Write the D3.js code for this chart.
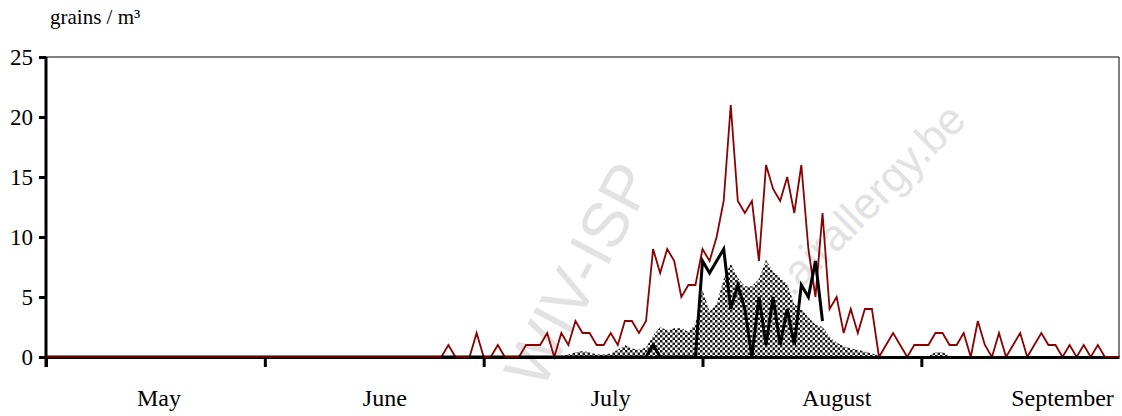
<!DOCTYPE html>
<html>
<head>
<meta charset="utf-8">
<script src="https://cdn.jsdelivr.net/npm/d3@7"></script>
<style>
  html, body { margin: 0; padding: 0; background: #fff; }
  svg { display: block; }
  text.serif { font-family: "Liberation Serif", "Times New Roman", serif; }
  text.wm { font-family: "Liberation Sans", Arial, sans-serif; }
</style>
</head>
<body>
<svg id="chart" width="1122" height="416"></svg>
<script>
// ---- data (day index 0 = 1 May ... 152 = 30 September) ----
const dayCount = 153;

// daily counts (red line)
const dailyCounts = [
  0,0,0,0,0,0,0,0,0,0, 0,0,0,0,0,0,0,0,0,0, 0,0,0,0,0,0,0,0,0,0,
  0,0,0,0,0,0,0,0,0,0, 0,0,0,0,0,0,0,0,0,0, 0,0,0,0,0,0,0,
  1,0,0,0,2,0,0,1,0,0,0,1,1,1,2,0,2,1,3,2,2,1,1,2,1,3,3,2,3,
  9,7,9,8,5,6,6,9,8,10,13,21,13,12,13,8,16,14,13,15,12,16,9,5,12,
  4,5,2,4,2,4,4,0,1,2,1,0,1,1,1,2,2,1,1,2,0,3,1,0,2,0,1,2,0,1,2,1,1,
  0,1,0,1,0,1,0,0,0
];

// second series (black thick line), ends on day 110
const secondCounts = [
  0,0,0,0,0,0,0,0,0,0, 0,0,0,0,0,0,0,0,0,0, 0,0,0,0,0,0,0,0,0,0,
  0,0,0,0,0,0,0,0,0,0, 0,0,0,0,0,0,0,0,0,0, 0,0,0,0,0,0,0,0,0,0,
  0,0,0,0,0,0,0,0,0,0, 0,0,0,0,0,0,0,0,0,0, 0,0,0,0,0,0,
  1,0,0,0,0,0,0,8,7,8,9,4,6,4,0,5,1,5,1,4,1,6,5,8,3
];

// multi-year mean (checkered area)
const meanCounts = [
  0,0,0,0,0,0,0,0,0,0, 0,0,0,0,0,0,0,0,0,0, 0,0,0,0,0,0,0,0,0,0,
  0,0,0,0,0,0,0,0,0,0, 0,0,0,0,0,0,0,0,0,0, 0,0,0,0,0,0,0,0,0,0,
  0,0,0,0,0,0,0,0,0,0.1, 0,0.1,0,0.1,0.2,0.4,0.5,0.4,0.2,0.2,
  0.3,0.6,1.0,0.7,0.6,0.8,1.8,2.5,2.2,2.4, 2.4,2.1,2.8,5.6,3.8,4.4,6.5,7.8,6.6,5.9,
  5.9,6.5,8.1,7.1,6.6,6.1,4.4,4.0,3.3,2.7, 2.5,1.7,1.2,0.9,0.7,0.6,0.45,0.3,0.1,0,
  0.1,0,0.15,0,0,0.1,0.4,0.4,0.1,0, 0,0,0.1,0,0,0,0,0,0,0,
  0,0,0,0,0,0,0,0,0,0, 0,0,0
];

const yTicks = [0, 5, 10, 15, 20, 25];
const xTickDays = [0, 31, 62, 93, 124];
const monthLabels = ["May", "June", "July", "August", "September"];
const monthLabelDays = [16, 48, 80, 112, 144];
const yTitle = "grains / m³";
const watermarkTexts = ["WIV-ISP", "www.airallergy.be"];

// ---- layout ----
const svg = d3.select("#chart");
const mLeft = 46, mRight = 1119, mTop = 57, mBottom = 357;

const x = d3.scaleLinear().domain([0, dayCount - 1]).range([mLeft, mRight]);
const y = d3.scaleLinear().domain([0, 25]).range([mBottom, mTop]);

// watermark (behind the chart)
const wm = svg.append("g").attr("fill", "#e2e2e2");
wm.append("text").attr("class", "wm").attr("text-anchor", "middle")
  .attr("transform", "translate(598,285) rotate(-62)")
  .style("font-size", "64px").text(watermarkTexts[0]);
wm.append("text").attr("class", "wm").attr("text-anchor", "end")
  .attr("transform", "translate(968,122) rotate(-45)")
  .style("font-size", "44px").text(watermarkTexts[1]);

// pattern
const defs = svg.append("defs");
const pat = defs.append("pattern").attr("id", "chk")
  .attr("patternUnits", "userSpaceOnUse").attr("width", 5).attr("height", 5);
pat.append("rect").attr("width", 5).attr("height", 5).attr("fill", "#fff");
pat.append("rect").attr("width", 2.5).attr("height", 2.5).attr("fill", "#1a1a1a");
pat.append("rect").attr("x", 2.5).attr("y", 2.5).attr("width", 2.5).attr("height", 2.5).attr("fill", "#1a1a1a");

// plot frame (thin top and right)
svg.append("path")
  .attr("d", `M${mLeft},${mTop}H${mRight}V${mBottom}`)
  .attr("fill", "none").attr("stroke", "#000").attr("stroke-width", 1);

// area
const area = d3.area()
  .x((d, i) => x(i)).y0(y(0)).y1(d => y(d));
svg.append("path").datum(meanCounts)
  .attr("d", area).attr("fill", "url(#chk)");

// red line
const line = d3.line().defined(d => d != null).x((d, i) => x(i)).y(d => y(d));
svg.append("path").datum(dailyCounts)
  .attr("d", line).attr("fill", "none")
  .attr("stroke", "#8b0000").attr("stroke-width", 1.8).attr("stroke-linejoin", "miter");

// black line
svg.append("path").datum(secondCounts)
  .attr("d", line).attr("fill", "none")
  .attr("stroke", "#000").attr("stroke-width", 3).attr("stroke-linejoin", "miter");

// y axis
const yAxis = svg.append("g").attr("transform", `translate(${mLeft},0)`)
  .call(d3.axisLeft(y).tickValues(yTicks).tickSize(7).tickPadding(6).tickSizeOuter(0));
yAxis.select(".domain").attr("stroke-width", 3).attr("d", `M0,${mTop}V${mBottom + 10}`);
yAxis.selectAll(".tick line").attr("stroke-width", 3);
yAxis.selectAll(".tick text").attr("class", "serif")
  .style("font-size", "23px").attr("fill", "#000");

// x axis
const xAxis = svg.append("g").attr("transform", `translate(0,${mBottom})`)
  .call(d3.axisBottom(x).tickValues(xTickDays).tickSize(10).tickFormat("").tickSizeOuter(0));
xAxis.select(".domain").attr("stroke-width", 3);
xAxis.selectAll(".tick line").attr("stroke-width", 3);

// red line sits on top of the axis where it is at zero
svg.append("path").datum(dailyCounts)
  .attr("d", d3.line().defined(d => d === 0).x((d, i) => x(i)).y(d => y(d)))
  .attr("fill", "none").attr("stroke", "#8b0000").attr("stroke-width", 1.5);

// month labels
svg.append("g").selectAll("text").data(monthLabels).join("text")
  .attr("class", "serif")
  .attr("x", (d, i) => x(monthLabelDays[i]))
  .attr("y", 406)
  .attr("text-anchor", "middle")
  .style("font-size", "24px")
  .text(d => d);

// y title
svg.append("text").attr("class", "serif").attr("x", 50).attr("y", 24)
  .style("font-size", "21px").text(yTitle);
</script>
</body>
</html>
